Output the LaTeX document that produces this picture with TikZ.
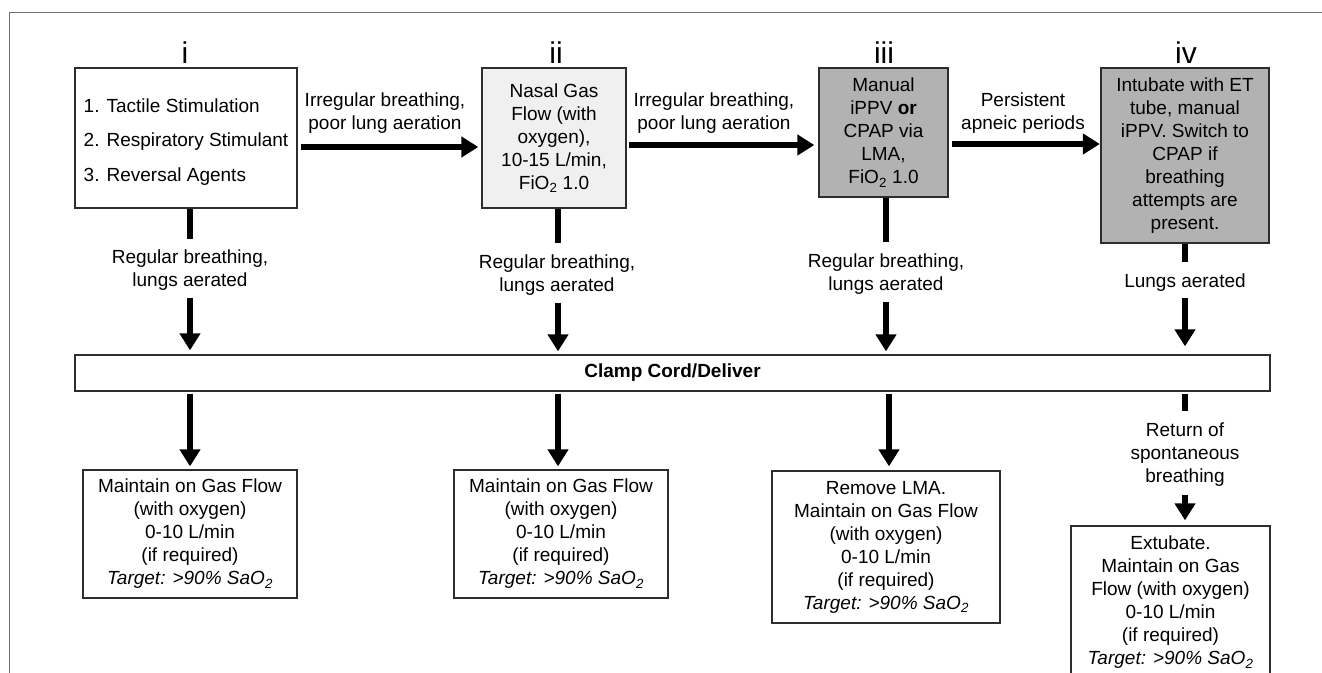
\documentclass[tikz,border=0pt]{standalone}
\usepackage{fontspec}
\setmainfont{Liberation Sans}
\usetikzlibrary{arrows.meta}
\definecolor{boxgray}{RGB}{178,178,178}
\definecolor{lightbox}{RGB}{240,240,240}
\definecolor{edgegray}{RGB}{45,45,45}
\definecolor{framegray}{RGB}{110,110,110}
\begin{document}
\begin{tikzpicture}[x=1pt,y=-1pt,
  every node/.style={font=\fontsize{19}{23}\selectfont, inner sep=0pt},
  box/.style={draw=edgegray, line width=1.3pt, align=center},
  lbl/.style={align=center},
  numeral/.style={font=\fontsize{30}{36}\selectfont, anchor=base},
  stem/.style={line width=6pt},
  arr/.style={line width=6pt, -{Triangle[width=20pt,length=17pt]}},
]
\useasboundingbox (0,0) rectangle (1322,672);
\clip (0,0) rectangle (1322,672);
\draw[framegray, line width=1pt] (9,700) -- (9,12) -- (1340,12);

% numerals
\node[numeral] (n1) at (185,63) {i};
\node[numeral] (n2) at (556,63) {ii};
\node[numeral] (n3) at (884,63) {iii};
\node[numeral] (n4) at (1186,63) {iv};

% top boxes
\node[box, minimum width=222pt, minimum height=140pt] (b1) at (186,138) {};
\node[align=left, font=\fontsize{19}{34.5}\selectfont] (b1t) at (186,142)
  {1. Tactile Stimulation\\2. Respiratory Stimulant\\3. Reversal Agents};
\node[box, fill=lightbox, minimum width=144pt, minimum height=140pt] (b2) at (554,138)
  {Nasal Gas\\Flow (with\\oxygen),\\10-15 L/min,\\FiO\textsubscript{2} 1.0};
\node[box, fill=boxgray, minimum width=129pt, minimum height=129pt] (b3) at (883.5,132.5)
  {Manual\\iPPV \textbf{or}\\CPAP via\\LMA,\\FiO\textsubscript{2} 1.0};
\node[box, fill=boxgray, minimum width=168pt, minimum height=175pt] (b4) at (1185,155.5)
  {Intubate with ET\\tube, manual\\iPPV. Switch to\\CPAP if\\breathing\\attempts are\\present.};

% horizontal labels
\node[lbl] (h1) at (385,113) {Irregular breathing,\\poor lung aeration};
\node[lbl] (h2) at (714,113) {Irregular breathing,\\poor lung aeration};
\node[lbl] (h3) at (1023,113) {Persistent\\apneic periods};

% horizontal arrows
\coordinate (y1) at (0,147);
\coordinate (y2) at (0,145);
\coordinate (y3) at (0,144);
\draw[arr, shorten <=3pt, shorten >=3pt] (b1.east |- y1) -- (b2.west |- y1);
\draw[arr, shorten <=2pt, shorten >=4pt] (b2.east |- y2) -- (b3.west |- y2);
\draw[arr, shorten <=3pt, shorten >=0.5pt] (b3.east |- y3) -- (b4.west |- y3);

% clamp bar
\node[box, minimum width=1195pt, minimum height=36pt,
      font=\bfseries\fontsize{19}{23}\selectfont] (clamp) at (672.5,373) {Clamp Cord/Deliver};

% stems, labels, arrows to clamp
\coordinate (s1) at (190,239);
\coordinate (t1) at (190,298);
\draw[stem] (s1 |- b1.south) -- (s1);
\node[lbl] (l1) at (190,270) {Regular breathing,\\lungs aerated};
\draw[arr, shorten >=4pt] (t1) -- (t1 |- clamp.north);

\coordinate (s2) at (558,243);
\coordinate (t2) at (558,303);
\draw[stem] (s2 |- b2.south) -- (s2);
\node[lbl] (l2) at (557,275) {Regular breathing,\\lungs aerated};
\draw[arr, shorten >=3pt] (t2) -- (t2 |- clamp.north);

\coordinate (s3) at (886,242);
\coordinate (t3) at (886,302);
\draw[stem] (s3 |- b3.south) -- (s3);
\node[lbl] (l3) at (886,274) {Regular breathing,\\lungs aerated};
\draw[arr, shorten >=3pt] (t3) -- (t3 |- clamp.north);

\coordinate (s4) at (1185,262);
\coordinate (t4) at (1185,298);
\draw[stem] (s4 |- b4.south) -- (s4);
\node[lbl] (l4) at (1185,283) {Lungs aerated};
\draw[arr, shorten >=8pt] (t4) -- (t4 |- clamp.north);

% bottom boxes
\node[box, minimum width=214pt, minimum height=128pt] (m1) at (190,534)
  {Maintain on Gas Flow\\(with oxygen)\\0-10 L/min\\(if required)\\\textit{Target: >90\% SaO\textsubscript{2}}};
\node[box, minimum width=214pt, minimum height=128pt] (m2) at (561,534)
  {Maintain on Gas Flow\\(with oxygen)\\0-10 L/min\\(if required)\\\textit{Target: >90\% SaO\textsubscript{2}}};
\node[box, minimum width=228pt, minimum height=152pt] (m3) at (886,547)
  {Remove LMA.\\Maintain on Gas Flow\\(with oxygen)\\0-10 L/min\\(if required)\\\textit{Target: >90\% SaO\textsubscript{2}}};
\node[box, minimum width=199pt, minimum height=153pt] (m4) at (1170.5,602.5)
  {Extubate.\\Maintain on Gas\\Flow (with oxygen)\\0-10 L/min\\(if required)\\\textit{Target: >90\% SaO\textsubscript{2}}};

% arrows from clamp
\coordinate (d1) at (190,0);
\coordinate (d2) at (558,0);
\coordinate (d3) at (889,0);
\draw[arr, shorten <=2pt, shorten >=3pt] (d1 |- clamp.south) -- (d1 |- m1.north);
\draw[arr, shorten <=2pt, shorten >=3pt] (d2 |- clamp.south) -- (d2 |- m2.north);
\draw[arr, shorten <=2pt, shorten >=4pt] (d3 |- clamp.south) -- (d3 |- m3.north);

\coordinate (s5) at (1185,411);
\coordinate (t5) at (1185,495);
\draw[stem, shorten <=2pt] (s5 |- clamp.south) -- (s5);
\node[lbl] (l5) at (1185,455) {Return of\\spontaneous\\breathing};
\draw[arr, shorten >=5pt] (t5) -- (t5 |- m4.north);
\end{tikzpicture}
\end{document}
